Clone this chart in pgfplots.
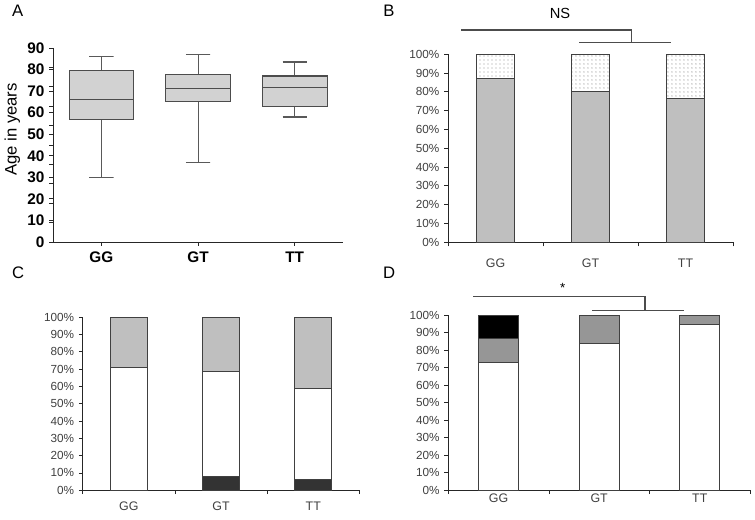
\documentclass[border=0pt]{standalone}
\usepackage{fontspec}
\setmainfont{Liberation Sans}
\usepackage{pgfplots}
\pgfplotsset{compat=1.18}
\usetikzlibrary{patterns}

\def\pxu{0.75pt}
\colorlet{boxgray}{gray!35}
\colorlet{bargray}{gray!50}
\colorlet{midgray}{black!41}
\colorlet{darkbar}{black!80}

\pgfplotsset{
  panel/.style={
    scale only axis,
    axis x line=bottom, axis y line=left,
    axis line style={-, black!85, line width=0.6pt},
    tick align=outside, major tick length=3pt,
    tick style={black!85, line width=0.6pt},
    xmin=0, xmax=3,
    /pgf/number format/assume math mode=true,
    ticklabel style={text=black!75, font=\fontsize{8.8}{10}\selectfont},
    clip=false,
  },
  % #1: vertical shift of the genotype names
  pct/.style={
    panel, ymin=0, ymax=100, ytick={0,10,...,100},
    yticklabel={\pgfmathprintnumber{\tick}\%},
    xtick={0,1,2,3}, xticklabels={},
    extra x ticks={0.5,1.5,2.5}, extra x tick labels={GG,GT,TT},
    extra x tick style={major tick length=0pt,
      tick label style={yshift=#1, font=\fontsize{9.3}{10}\selectfont}},
    ybar stacked, bar width=0.4,
    every axis plot/.append style={draw=black!75, line width=0.6pt},
  },
  agebox/.style={draw=black!70, fill=boxgray, line width=0.8pt, mark=none},
  agewhisk/.style={draw=black!65, line width=0.8pt, mark=none},
}

\begin{document}
\begin{tikzpicture}

% A: age by genotype (box: quartiles, line: median, T: whiskers)
\begin{axis}[panel,
  at={({53*\pxu},{-242*\pxu})}, anchor=south west,
  width=217.5pt, height=145.5pt,
  ymin=0, ymax=90, ytick={0,10,...,90},
  xtick={0.5,1.5,2.5}, xticklabels={GG,GT,TT},
  ticklabel style={text=black, font=\bfseries\fontsize{11.5}{12}\selectfont},
  xticklabel style={yshift=-1pt},
  ylabel={Age in years},
  ylabel style={at={(axis description cs:-0.141,0.58)}, anchor=center,
    font=\fontsize{12.5}{13}\selectfont},
]
% GG
\addplot[agewhisk] coordinates {(0.375,86) (0.625,86) (0.5,86) (0.5,79.5)};
\addplot[agewhisk] coordinates {(0.375,30) (0.625,30) (0.5,30) (0.5,57)};
\addplot[agebox] coordinates {(0.165,57) (0.835,57) (0.835,79.5) (0.165,79.5)} -- cycle;
\addplot[agebox] coordinates {(0.165,66) (0.835,66)};
% GT
\addplot[agewhisk] coordinates {(1.375,87) (1.625,87) (1.5,87) (1.5,77.5)};
\addplot[agewhisk] coordinates {(1.375,37) (1.625,37) (1.5,37) (1.5,65)};
\addplot[agebox] coordinates {(1.165,65) (1.835,65) (1.835,77.5) (1.165,77.5)} -- cycle;
\addplot[agebox] coordinates {(1.165,71) (1.835,71)};
% TT
\addplot[agewhisk] coordinates {(2.375,83.5) (2.625,83.5) (2.5,83.5) (2.5,77)};
\addplot[agewhisk] coordinates {(2.375,58) (2.625,58) (2.5,58) (2.5,63)};
\addplot[agebox] coordinates {(2.165,63) (2.835,63) (2.835,77) (2.165,77)} -- cycle;
\addplot[agebox] coordinates {(2.165,71.5) (2.835,71.5)};
\end{axis}

% B
\begin{axis}[pct=-9pt,
  at={({448*\pxu},{-242.3*\pxu})}, anchor=south west,
  width=213.75pt, height=141pt]
\addplot[fill=bargray] coordinates {(0.5,87) (1.5,80) (2.5,76.5)};
\addplot[pattern=dots, pattern color=black!40] coordinates {(0.5,13) (1.5,20) (2.5,23.5)};
\end{axis}

% C
\begin{axis}[pct=-5.5pt,
  at={({82.7*\pxu},{-490.3*\pxu})}, anchor=south west,
  width=207.45pt, height=129.75pt]
\addplot[fill=darkbar] coordinates {(0.5,0) (1.5,8) (2.5,6)};
\addplot[fill=white] coordinates {(0.5,71) (1.5,60.5) (2.5,53)};
\addplot[fill=bargray] coordinates {(0.5,29) (1.5,31.5) (2.5,41)};
\end{axis}

% D
\begin{axis}[pct=1pt,
  at={({448.3*\pxu},{-490.3*\pxu})}, anchor=south west,
  width=226.3pt, height=131.25pt]
\addplot[fill=white] coordinates {(0.5,73) (1.5,84) (2.5,94.5)};
\addplot[fill=midgray] coordinates {(0.5,14) (1.5,16) (2.5,5.5)};
\addplot[fill=black] coordinates {(0.5,13) (1.5,0) (2.5,0)};
\end{axis}

% brackets, panel letters and the frame of panel A, in pixels
\begin{scope}[x=\pxu, y=-\pxu, line width=0.8pt, draw=black!70]
\draw[black!85, line width=0.7pt] (53,48) -- (53,242) -- (343,242);
\foreach \k in {0,...,9}
  \draw[black!85, line width=0.7pt] (53,{242-19.4*\k}) -- ++(-4,0);
\foreach \t in {101.3,198,294.7}
  \draw[black!85, line width=0.7pt] (\t,242) -- ++(0,4);
\draw (461,30) -- (631.7,30) -- (631.7,42.7);
\draw (579,42.7) -- (671,42.7);
\node[font=\fontsize{11}{12}\selectfont] at (560,13.5) {NS};
\draw (473.3,296.7) -- (645,296.7) -- (645,310.7);
\draw (592.3,310.7) -- (684.3,310.7);
\node[font=\fontsize{10}{11}\selectfont] at (562.7,287.5) {*};
\foreach \l/\x/\y in {A/17.5/11, B/389/11, C/18/273, D/389/273}
  \node[font=\fontsize{12.5}{13}\selectfont] at (\x,\y) {\l};
% page frame, 755 x 520 px
\path (0,0) rectangle (755,520);
\end{scope}
\end{tikzpicture}
\end{document}
